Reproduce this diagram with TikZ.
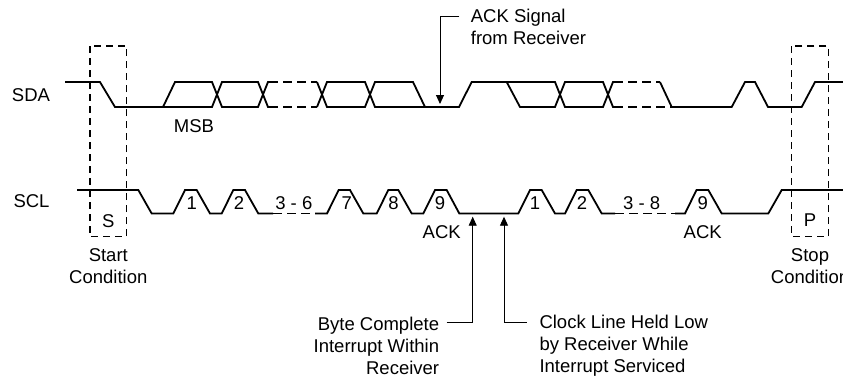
\documentclass[tikz,border=0pt]{standalone}
\usepackage{fontspec}
\setmainfont{Liberation Sans}
\usetikzlibrary{arrows.meta}
\begin{document}
\begin{tikzpicture}[x=1pt,y=-1pt,
  sig/.style={line width=1.8pt,line join=miter,line cap=butt},
  dsig/.style={line width=1.2pt,dash pattern=on 9pt off 5pt},
  cbox/.style={line width=1.1pt,dash pattern=on 7pt off 5pt},
  ann/.style={line width=0.9pt},
  tip/.style={-{Triangle[length=9pt,width=8pt]}},
  lbl/.style={inner sep=0pt,font=\fontsize{18.5}{22}\selectfont},
]
\useasboundingbox (0,0) rectangle (843,378);

% ---------- SDA ----------
\draw[sig] (65,82) -- (100,82) -- (115,107) -- (212,107) -- (222,82) -- (258,82) -- (268,107) -- (269,107);
\draw[sig] (163,107) -- (175,82) -- (212,82) -- (222,107) -- (258,107) -- (268,82) -- (269,82);
\draw[dsig] (269,82) -- (317,82);
\draw[dsig] (269,107) -- (317,107);
\draw[sig] (317,82) -- (327,107) -- (365,107) -- (375,82) -- (413,82) -- (425,107);
\draw[sig] (317,107) -- (327,82) -- (365,82) -- (375,107) -- (459,107) -- (471.7,82) -- (555,82) -- (565,107) -- (603,107) -- (613,82) -- (614,82);
\draw[sig] (506.7,82) -- (520,107) -- (555,107) -- (565,82) -- (603,82) -- (613,107) -- (614,107);
\draw[dsig] (614,82) -- (660,82);
\draw[dsig] (614,107) -- (671.7,107);
\draw[sig] (660,82) -- (671.7,107) -- (731.7,107) -- (745,82) -- (755,82) -- (768,107) -- (801.7,107) -- (815,82) -- (843,82);

% ---------- SCL ----------
\draw[sig] (77,190) -- (138.3,190) -- (151.7,213.5) -- (173.3,213.5) -- (185,190) -- (196.7,190) -- (210,213.5) -- (221.7,213.5) -- (233.3,190) -- (245,190) -- (258.3,213.5) -- (273,213.5);
\draw[dsig] (273,213.5) -- (315,213.5);
\draw[sig] (315,213.5) -- (327,213.5) -- (338.7,190) -- (350,190) -- (363.3,213.5) -- (376.7,213.5) -- (388.3,190) -- (398.3,190) -- (411.7,213.5) -- (423.3,213.5) -- (435,190) -- (446.7,190) -- (459.3,213.5) -- (518.3,213.5) -- (530,190) -- (541.7,190) -- (555,213.5) -- (565,213.5) -- (576.7,190) -- (588.3,190) -- (601.7,213.5) -- (615,213.5);
\draw[dsig] (615,213.5) -- (675,213.5);
\draw[sig] (675,213.5) -- (685,213.5) -- (696.5,190) -- (708.3,190) -- (721.7,213.5) -- (768.3,213.5) -- (781.7,190) -- (843,190);

% ---------- condition boxes ----------
\draw[cbox] (90,46) rectangle (126.7,236.7);
\draw[cbox] (791.7,46) rectangle (828.3,236.7);

% ---------- labels ----------
\node[lbl] (sda) at (31,95) {SDA};
\node[lbl] (scl) at (31.5,201.5) {SCL};
\node[lbl] (msb) at (194,126) {MSB};
\node[lbl] (b1) at (191.7,203) {1};
\node[lbl] (b2) at (239,203) {2};
\node[lbl] (b36) at (293.8,203) {3 - 6};
\node[lbl] (b7) at (346.7,203) {7};
\node[lbl] (b8) at (393.5,203) {8};
\node[lbl] (b9) at (440,203) {9};
\node[lbl] (c1) at (535,203) {1};
\node[lbl] (c2) at (582,203) {2};
\node[lbl] (c38) at (641.7,203) {3 - 8};
\node[lbl] (c9) at (702.7,203) {9};
\node[lbl] (ack1) at (441.7,231.7) {ACK};
\node[lbl] (ack2) at (702.7,231.7) {ACK};
\node[lbl] (s) at (108.3,221.5) {S};
\node[lbl] (p) at (810,220.5) {P};
\node[lbl,align=center] (start) at (108.3,266) {Start\\Condition};
\node[lbl,align=center] (stop) at (810,266) {Stop\\Condition};

\node[lbl,align=left,anchor=west] (acktxt) at (470.7,27) {ACK Signal\\from Receiver};
\node[lbl,align=right,anchor=east] (bytetxt) at (439.3,346) {Byte Complete\\Interrupt Within\\Receiver};
\node[lbl,align=left,anchor=west] (clktxt) at (539.3,346) {Clock Line Held Low\\by Receiver While\\Interrupt Serviced};

% ---------- annotation arrows ----------
\coordinate (ackstart) at (459.3,16);
\coordinate (acktip) at (440,104);
\coordinate (bytestart) at (446.7,322.7);
\coordinate (bytetip) at (472.7,216.7);
\coordinate (clkstart) at (526.7,322.7);
\coordinate (clktip) at (504,216.7);
\draw[ann,tip] (ackstart) -| (acktip);
\draw[ann,tip] (bytestart) -| (bytetip);
\draw[ann,tip] (clkstart) -| (clktip);
\end{tikzpicture}
\end{document}
